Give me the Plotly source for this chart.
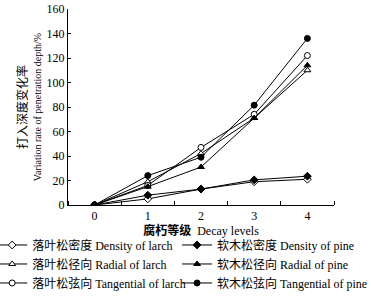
import plotly.graph_objects as go

decay_levels = [0, 1, 2, 3, 4]
density_larch = [0, 5, 13, 19, 21]
density_pine = [0, 8, 13, 20.5, 23.5]
radial_larch = [0, 19, 42, 71, 110]
radial_pine = [0, 15, 31, 71, 114]
tangential_larch = [0, 16, 47, 74, 122]
tangential_pine = [0, 24, 39, 81.5, 136]

series = [
    ("落叶松密度 Density of larch", density_larch, "diamond", "white", "legend"),
    ("落叶松径向 Radial of larch", radial_larch, "triangle-up", "white", "legend"),
    ("落叶松弦向 Tangential of larch", tangential_larch, "circle", "white", "legend"),
    ("软木松密度 Density of pine", density_pine, "diamond", "black", "legend2"),
    ("软木松径向 Radial of pine", radial_pine, "triangle-up", "black", "legend2"),
    ("软木松弦向 Tangential of pine", tangential_pine, "circle", "black", "legend2"),
]

fig = go.Figure()
for name, vals, sym, fill, lg in series:
    fig.add_trace(go.Scatter(
        x=decay_levels, y=vals, name=name, mode="lines+markers", legend=lg,
        line=dict(color="black", width=1),
        marker=dict(symbol=sym, size=6, color=fill, line=dict(color="black", width=1)),
    ))

font_family = "Liberation Serif, Noto Sans CJK SC, serif"
legend_common = dict(orientation="v", yanchor="top", xanchor="left",
                     font=dict(size=12, family=font_family), tracegroupgap=0,
                     bgcolor="rgba(0,0,0,0)", itemwidth=30)
fig.update_layout(
    width=371, height=301,
    margin=dict(l=68, r=37, t=9, b=96, autoexpand=False),
    paper_bgcolor="white", plot_bgcolor="white",
    font=dict(family=font_family, size=11, color="black"),
    showlegend=True,
    legend=dict(x=-0.285, y=-0.13, **legend_common),
    legend2=dict(x=0.41, y=-0.13, **legend_common),
    xaxis=dict(range=[-0.5, 4.5], tickvals=decay_levels, ticks="", showgrid=False,
               zeroline=False, showline=True, linecolor="black", linewidth=1,
               minor=dict(tick0=0.5, dtick=1, ticks="inside", ticklen=4, tickcolor="black", showgrid=False),
               title=dict(text="<b>腐朽等级</b>  Decay levels", standoff=2, font=dict(size=12)),
               tickfont=dict(size=12)),
    yaxis=dict(range=[0, 160], dtick=20, ticks="inside", ticklen=3, tickcolor="black",
               showgrid=False, zeroline=False, showline=True, linecolor="black", linewidth=1,
               title=dict(text="<span style='font-size:12px'>打入深度变化率</span><br>"
                               "<span style='font-size:10px'>Variation rate of penetration depth/%</span>",
                          standoff=2, font=dict(size=11)),
               tickfont=dict(size=12)),
)

fig.write_html("out.html", config={"displayModeBar": False},
               post_script="document.body.style.margin='0px';")
